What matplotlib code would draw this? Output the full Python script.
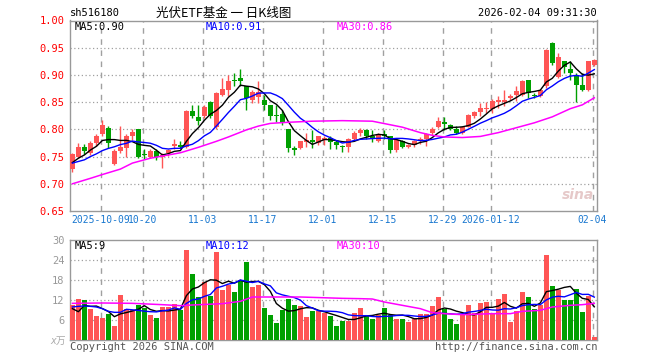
import matplotlib
matplotlib.use("Agg")
import matplotlib.pyplot as plt
import numpy as np
import pandas as pd

plt.rcParams['font.family'] = ['DejaVu Sans Mono', 'Noto Sans CJK SC']

# ---- data (88 daily candles) ----
opens = [0.727, 0.750, 0.767, 0.756, 0.775, 0.792, 0.803, 0.737, 0.761, 0.766,
         0.788, 0.801, 0.754, 0.750, 0.761, 0.749, 0.756, 0.770, 0.772, 0.768,
         0.833, 0.822, 0.824, 0.850, 0.805, 0.864, 0.873, 0.891, 0.894, 0.879,
         0.854, 0.860, 0.854, 0.845, 0.827, 0.829, 0.800, 0.765, 0.765, 0.776,
         0.781, 0.775, 0.781, 0.784, 0.776, 0.770, 0.768, 0.782, 0.793, 0.798,
         0.787, 0.778, 0.792, 0.788, 0.762, 0.778, 0.767, 0.772, 0.781, 0.782,
         0.793, 0.805, 0.814, 0.808, 0.800, 0.794, 0.805, 0.825, 0.831, 0.837,
         0.837, 0.851, 0.851, 0.858, 0.864, 0.864, 0.890, 0.863, 0.862, 0.879,
         0.958, 0.897, 0.925, 0.911, 0.899, 0.882, 0.873, 0.918]
highs = [0.757, 0.775, 0.773, 0.778, 0.792, 0.818, 0.806, 0.764, 0.806, 0.792,
         0.801, 0.801, 0.764, 0.764, 0.763, 0.756, 0.764, 0.782, 0.778, 0.835,
         0.845, 0.845, 0.845, 0.852, 0.868, 0.894, 0.899, 0.904, 0.911, 0.879,
         0.873, 0.888, 0.864, 0.845, 0.845, 0.835, 0.800, 0.770, 0.779, 0.793,
         0.799, 0.788, 0.787, 0.787, 0.780, 0.771, 0.785, 0.797, 0.803, 0.800,
         0.799, 0.794, 0.799, 0.788, 0.783, 0.781, 0.774, 0.781, 0.786, 0.794,
         0.805, 0.823, 0.823, 0.810, 0.806, 0.807, 0.829, 0.833, 0.848, 0.851,
         0.856, 0.862, 0.873, 0.865, 0.880, 0.891, 0.891, 0.866, 0.875, 0.947,
         0.960, 0.940, 0.926, 0.925, 0.904, 0.904, 0.925, 0.929]
lows = [0.722, 0.747, 0.755, 0.753, 0.770, 0.788, 0.765, 0.734, 0.756, 0.749,
        0.781, 0.747, 0.745, 0.747, 0.744, 0.729, 0.751, 0.764, 0.766, 0.765,
        0.821, 0.808, 0.821, 0.821, 0.801, 0.861, 0.862, 0.879, 0.880, 0.836,
        0.848, 0.848, 0.836, 0.818, 0.813, 0.808, 0.759, 0.753, 0.763, 0.768,
        0.765, 0.772, 0.772, 0.764, 0.764, 0.759, 0.759, 0.780, 0.788, 0.782,
        0.776, 0.776, 0.782, 0.757, 0.759, 0.765, 0.765, 0.768, 0.773, 0.769,
        0.789, 0.802, 0.799, 0.799, 0.792, 0.792, 0.804, 0.820, 0.824, 0.830,
        0.830, 0.840, 0.842, 0.854, 0.853, 0.862, 0.858, 0.858, 0.860, 0.876,
        0.919, 0.894, 0.904, 0.891, 0.851, 0.871, 0.871, 0.917]
closes = [0.754, 0.767, 0.761, 0.775, 0.787, 0.808, 0.775, 0.761, 0.767, 0.788,
          0.796, 0.750, 0.752, 0.761, 0.749, 0.753, 0.762, 0.773, 0.768, 0.833,
          0.825, 0.816, 0.841, 0.824, 0.867, 0.874, 0.888, 0.888, 0.889, 0.858,
          0.868, 0.868, 0.845, 0.824, 0.825, 0.812, 0.765, 0.762, 0.778, 0.781,
          0.776, 0.787, 0.785, 0.776, 0.772, 0.767, 0.782, 0.793, 0.798, 0.787,
          0.784, 0.792, 0.788, 0.762, 0.781, 0.767, 0.772, 0.778, 0.782, 0.792,
          0.801, 0.815, 0.810, 0.800, 0.793, 0.805, 0.827, 0.831, 0.839, 0.839,
          0.853, 0.854, 0.854, 0.861, 0.870, 0.888, 0.867, 0.862, 0.873, 0.945,
          0.922, 0.933, 0.915, 0.904, 0.882, 0.872, 0.925, 0.927]
volumes = [10.4, 12.2, 11.9, 9.2, 7.2, 6.6, 7.8, 4.2, 13.4, 9.2,
           8.9, 10.4, 9.6, 7.6, 6.6, 9.9, 9.9, 10.9, 8.9, 26.9,
           19.9, 12.9, 17.4, 13.2, 26.3, 14.9, 16.4, 14.4, 17.6, 23.4,
           15.9, 16.6, 9.6, 7.4, 5.2, 8.9, 12.2, 10.4, 10.1, 6.9,
           8.6, 8.6, 8.2, 7.2, 4.2, 5.6, 5.6, 8.2, 9.6, 7.2,
           6.2, 7.6, 9.6, 7.6, 6.2, 6.4, 5.4, 6.2, 7.9, 7.9,
           10.1, 12.9, 9.2, 6.4, 4.7, 7.9, 10.4, 8.2, 11.1, 11.4,
           7.9, 12.2, 13.7, 5.4, 8.6, 14.4, 12.9, 9.2, 10.4, 25.6,
           16.1, 14.9, 11.9, 11.9, 15.4, 8.4, 13.2, 0.9]

# moving-average values before enough candles exist
ma5_head = [0.739, 0.747, 0.753, 0.762]
ma10_head = [0.738, 0.741, 0.744, 0.750, 0.755, 0.761, 0.765, 0.768, 0.772]
vma5_head = [9.4, 8.5, 10.4, 10.1]
vma10_head = [9.9, 10.1, 10.2, 10.1, 9.9, 9.4, 8.6, 8.3, 8.3]

# MA30 lines (index, value)
ma30_idx = [0, 3, 5, 8, 10, 13, 15, 18, 21, 24, 26, 29, 31, 33, 36, 40, 45, 50,
            55, 58, 60, 62, 65, 68, 71, 74, 77, 80, 83, 85, 87]
ma30_val = [0.700, 0.710, 0.717, 0.727, 0.738, 0.747, 0.751, 0.757, 0.767, 0.778,
            0.786, 0.799, 0.806, 0.811, 0.813, 0.815, 0.816, 0.815, 0.804, 0.794,
            0.789, 0.786, 0.785, 0.787, 0.794, 0.803, 0.812, 0.823, 0.838, 0.845, 0.858]
vma30_idx = [0, 5, 10, 15, 18, 20, 25, 28, 30, 38, 45, 48, 50, 52, 55, 58, 60,
             62, 65, 70, 73, 75, 78, 80, 83, 85, 87]
vma30_val = [11.0, 11.1, 11.0, 10.6, 10.3, 10.5, 10.9, 11.6, 12.9, 12.9, 12.5, 12.4,
             12.3, 11.4, 10.4, 9.4, 8.2, 7.9, 7.6, 7.9, 7.9, 8.6, 8.9, 9.9, 10.4, 10.6, 11.0]

date_pos = [5, 12, 22, 32, 42, 52, 62, 70, 87]
date_labels = ['2025-10-09', '10-20', '11-03', '11-17', '12-01', '12-15',
               '12-29', '2026-01-12', '02-04']

price_ticks = [0.65, 0.70, 0.75, 0.80, 0.85, 0.90, 0.95, 1.00]
vol_ticks = [6, 12, 18, 24, 30]

RED = '#ff5555'
GREEN = '#00a000'
GRID = '#a0a0a0'
W, H = 660, 360


def px(x, y):
    return x / W, 1 - y / H


df = pd.DataFrame({'open': opens, 'high': highs, 'low': lows,
                   'close': closes, 'vol': volumes})
df['ma5'] = df['close'].rolling(5).mean()
df['ma10'] = df['close'].rolling(10).mean()
df['vma5'] = df['vol'].rolling(5).mean()
df['vma10'] = df['vol'].rolling(10).mean()
df.loc[:3, 'ma5'] = ma5_head
df.loc[:8, 'ma10'] = ma10_head
df.loc[:3, 'vma5'] = vma5_head
df.loc[:8, 'vma10'] = vma10_head

x = np.arange(len(df))
up = df['close'] >= df['open']
colors = np.where(up, RED, GREEN)

fig = plt.figure(figsize=(6.6, 3.6), dpi=100)
ax1 = fig.add_axes([70 / W, 1 - 211 / H, 527 / W, 190.5 / H])
ax2 = fig.add_axes([70 / W, 1 - 340 / H, 527 / W, 100 / H])

# --- price panel ---
body_lo = np.minimum(df['open'], df['close'])
body_h = np.maximum((df['close'] - df['open']).abs(), 0.0018)
ax1.vlines(x, df['low'], df['high'], colors=colors, lw=1, zorder=3)
ax1.bar(x, body_h, bottom=body_lo, width=0.78, color=colors, lw=0, zorder=4)
ax1.plot(x, df['ma5'], color='black', lw=1, zorder=5)
ax1.plot(x, df['ma10'], color='#0000ff', lw=1, zorder=5)
ax1.plot(ma30_idx, ma30_val, color='#ff00ff', lw=1.1, zorder=5)

ax1.set_ylim(0.65, 1.00)
ax1.set_yticks(price_ticks)
ax1.set_yticklabels([f'{t:.2f}' for t in price_ticks], color='#ff0000', fontsize=7.5)

# --- volume panel ---
ax2.bar(x, df['vol'], width=0.8, color=colors, lw=0, zorder=3)
ax2.plot(x, df['vma5'], color='black', lw=1, zorder=5)
ax2.plot(x, df['vma10'], color='#0000ff', lw=1, zorder=5)
ax2.plot(vma30_idx, vma30_val, color='#ff00ff', lw=1.1, zorder=5)
ax2.set_ylim(0, 30)
ax2.set_yticks(vol_ticks)
ax2.set_yticklabels([str(t) for t in vol_ticks], color='#999999', fontsize=7.5)

for ax in (ax1, ax2):
    ax.set_xlim(-0.4, 87.45)
    ax.tick_params(axis='both', length=0, pad=4)
    for s in ax.spines.values():
        s.set_color('#999999')
        s.set_linewidth(1)
    for p in date_pos:
        ax.axvline(p - 0.3, color=GRID, lw=1, ls=(0, (4, 4)), zorder=1)
    for t in ax.get_yticks():
        if ax.get_ylim()[0] < t < ax.get_ylim()[1]:
            ax.axhline(t, color=GRID, lw=0.9, ls=(0, (1, 2)), zorder=1)

ax1.set_xticks([p - 0.3 for p in date_pos])
ax1.set_xticklabels(date_labels, color='#1a78d0', fontsize=7)
ax1.tick_params(axis='x', pad=3)
ax2.set_xticks([])

# --- texts ---
fig.text(*px(70, 13), 'sh516180', fontsize=7.5, va='center')
fig.text(*px(224, 13), '光伏ETF基金 一 日K线图', fontsize=9, va='center', ha='center',
         family=['Noto Sans CJK SC'])
fig.text(*px(597, 13), '2026-02-04 09:31:30', fontsize=7.5, va='center', ha='right')

fig.text(*px(75, 27), 'MA5:0.90', fontsize=7.5, va='center', color='black')
fig.text(*px(206, 27), 'MA10:0.91', fontsize=7.5, va='center', color='#0000ff')
fig.text(*px(337, 27), 'MA30:0.86', fontsize=7.5, va='center', color='#ff00ff')
fig.text(*px(75, 246), 'MA5:9', fontsize=7.5, va='center', color='black')
fig.text(*px(206, 246), 'MA10:12', fontsize=7.5, va='center', color='#0000ff')
fig.text(*px(337, 246), 'MA30:10', fontsize=7.5, va='center', color='#ff00ff')

fig.text(*px(66, 341), 'x万', fontsize=7, va='center', ha='right', color='#aaaaaa',
         style='italic', family=['DejaVu Sans Mono', 'Noto Sans CJK SC'])
fig.text(*px(70, 347), 'Copyright 2026 SINA.COM', fontsize=7.5, va='center', color='#555555')
fig.text(*px(597, 347), 'http://finance.sina.com.cn', fontsize=7.5, va='center',
         ha='right', color='#555555')
fig.text(*px(578, 195), 'sina', fontsize=10, va='center', ha='center', color='#e6c9c9',
         style='italic', weight='bold', family=['DejaVu Sans'])

fig.savefig('out.png', dpi=100)
